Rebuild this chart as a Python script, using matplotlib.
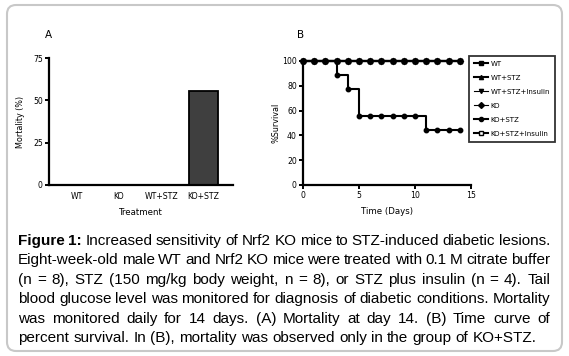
import numpy as np
import matplotlib
matplotlib.use("Agg")
import matplotlib.pyplot as plt
from matplotlib.patches import FancyBboxPatch
from matplotlib.transforms import IdentityTransform

W, H = 569, 356

# panel A: mortality at day 14
groups = ["WT", "KO", "WT+STZ", "KO+STZ"]
mortality = [0, 0, 0, 55.6]

# panel B: survival curves
days = list(range(15))
survival = {
    "WT": [100] * 15,
    "WT+STZ": [100] * 15,
    "WT+STZ+Insulin": [100] * 15,
    "KO": [100] * 15,
    "KO+STZ": [100, 100, 100, 88.9, 77.8, 55.6, 55.6, 55.6, 55.6, 55.6, 55.6,
               44.4, 44.4, 44.4, 44.4],
    "KO+STZ+Insulin": [100] * 15,
}
markers = {"WT": "s", "WT+STZ": "^", "WT+STZ+Insulin": "v", "KO": "D",
           "KO+STZ": "o", "KO+STZ+Insulin": "s"}

caption = [
    "Figure 1: Increased sensitivity of Nrf2 KO mice to STZ-induced diabetic lesions.",
    "Eight-week-old male WT and Nrf2 KO mice were treated with 0.1 M citrate buffer",
    "(n = 8), STZ (150 mg/kg body weight, n = 8), or STZ plus insulin (n = 4). Tail",
    "blood glucose level was monitored for diagnosis of diabetic conditions. Mortality",
    "was monitored daily for 14 days.  (A) Mortality at day 14. (B) Time curve of",
    "percent survival. In (B), mortality was observed only in the group of KO+STZ.",
]


def px_axes(fig, x0, y0, x1, y1):
    return fig.add_axes([x0 / W, 1 - y1 / H, (x1 - x0) / W, (y1 - y0) / H])


def style(ax):
    for s in ["top", "right"]:
        ax.spines[s].set_visible(False)
    for s in ["left", "bottom"]:
        ax.spines[s].set_linewidth(1.6)
    ax.tick_params(width=1.4, length=3, labelsize=5.6, pad=1.5)


fig = plt.figure(figsize=(W / 100, H / 100), dpi=100)
fig.patch.set_facecolor("white")

border = FancyBboxPatch((7, H - 351), 555, 346, boxstyle="round,pad=0,rounding_size=9",
                        transform=IdentityTransform(), facecolor="none",
                        edgecolor="#c8c8c8", linewidth=1.5)
fig.add_artist(border)

# ---- panel A
axA = px_axes(fig, 49, 58, 233, 185)
style(axA)
x = np.arange(len(groups))
axA.bar(x, mortality, width=0.68, color="#3f3f3f", edgecolor="black", linewidth=1.3)
axA.set_xlim(-0.65, 3.7)
axA.set_ylim(0, 75)
axA.set_yticks([0, 25, 50, 75])
axA.set_xticks(x)
axA.set_xticklabels(groups)
axA.tick_params(axis="x", length=0, pad=5)
axA.set_xlabel("Treatment", fontsize=6.2, labelpad=5)
axA.set_ylabel("Mortality (%)", fontsize=5.8, labelpad=6)
fig.text(48 / W, 1 - 35 / H, "A", fontsize=7.5, ha="center", va="center")

# ---- panel B
axB = px_axes(fig, 303, 61, 471, 185)
style(axB)
order = ["KO+STZ+Insulin", "WT+STZ+Insulin", "WT+STZ", "KO", "WT", "KO+STZ"]
for name in order:
    vals = survival[name]
    mfc = "white" if name == "KO+STZ+Insulin" else "black"
    axB.step(days, vals, where="post", color="black", linewidth=1.5, clip_on=False)
    axB.plot(days, vals, linestyle="none", marker=markers[name], markersize=3.2,
             color="black", markerfacecolor=mfc, clip_on=False)
handles = []
for name in survival:
    mfc = "white" if name == "KO+STZ+Insulin" else "black"
    lw = 0.8 if name in ("WT+STZ+Insulin", "KO") else 1.5
    h, = axB.plot([], [], color="black", linewidth=lw, marker=markers[name],
                  markersize=3, markerfacecolor=mfc, label=name)
    handles.append(h)
axB.set_xlim(0, 15)
axB.set_ylim(0, 100)
axB.set_xticks([0, 5, 10, 15])
axB.set_yticks([0, 20, 40, 60, 80, 100])
axB.set_xlabel("Time (Days)", fontsize=6.2, labelpad=5)
axB.set_ylabel("%Survival", fontsize=5.8, labelpad=1)
fig.text(301 / W, 1 - 35 / H, "B", fontsize=7.5, ha="center", va="center")
leg = fig.legend(handles=handles, loc="upper left",
                 bbox_to_anchor=(469 / W, 1 - 56 / H), fontsize=5,
                 frameon=True, fancybox=False, handlelength=2.0,
                 handletextpad=0.4, labelspacing=1.15, borderpad=0.7,
                 borderaxespad=0)
leg.get_frame().set_edgecolor("black")
leg.get_frame().set_linewidth(1.3)

# ---- caption, justified
fig.canvas.draw()
renderer = fig.canvas.get_renderer()
left, right = 18, 550
fs = 11.0
for i, line in enumerate(caption):
    y = 1 - (241 + 19.4 * i) / H
    words = line.split(" ")
    words = [w for w in words if w != ""]
    texts = []
    for j, w in enumerate(words):
        bold = i == 0 and j < 2
        t = fig.text(0, y, w, fontsize=fs, family="Liberation Sans",
                     fontweight="bold" if bold else "normal", va="center")
        texts.append(t)
    widths = [t.get_window_extent(renderer).width for t in texts]
    if i < len(caption) - 1:
        gap = (right - left - sum(widths)) / (len(words) - 1)
    else:
        gap = fig.text(0, 0, " ", fontsize=fs, family="Liberation Sans").get_window_extent(renderer).width
    xp = left
    for t, w in zip(texts, widths):
        t.set_x(xp / W)
        xp += w + gap

fig.savefig("out.png", dpi=100)
